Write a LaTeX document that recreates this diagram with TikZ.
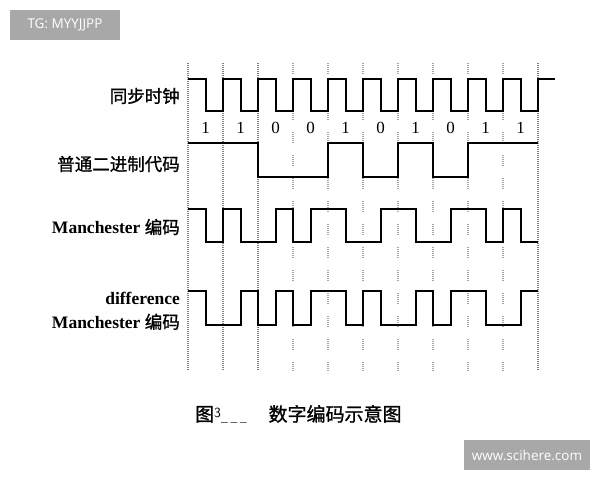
\documentclass[tikz,border=0pt]{standalone}
\usepackage{fontspec}
\setmainfont{Liberation Serif}
\newfontfamily\cjk{Noto Sans CJK SC}[FakeBold=1.2]
\newfontfamily\wmfont{Open Sans}
\usetikzlibrary{positioning}

\begin{document}
\begin{tikzpicture}[x=1pt,y=-1pt,
   sig/.style={line width=2pt, line join=miter},
   fineline/.style={black!50, line width=1.1pt, dash pattern=on 1pt off 1pt},
   gapline/.style={black!35, line width=1.1pt, dash pattern=on 1pt off 1pt on 1pt off 1pt on 1pt off 1pt on 1pt off 1pt on 1pt off 1pt on 1pt off 12pt},
   lbl/.style={anchor=east, align=right, inner sep=0pt, font=\fontsize{17.5}{24}\selectfont},
   bit/.style={font=\fontsize{17}{17}\selectfont},
   wmark/.style={fill=black!34, text=white, inner sep=0pt, font=\wmfont\fontsize{13.5}{13.5}\selectfont}]

   \useasboundingbox (0,0) rectangle (600,480);

   % Watermarks
      \node[wmark, minimum width=110pt, minimum height=30pt] (tg)  at (65,25)    {TG: MYYJJPP};
      \node[wmark, minimum width=126pt, minimum height=30pt] (web) at (527,455)  {www.scihere.com};

   % Bit boundaries
      \draw[fineline] (188,63) -- (188,371);
      \draw[fineline] (223,63) -- (223,371);
      \draw[fineline] (258,63) -- (258,371);
      \draw[gapline]  (293,63) -- (293,371);
      \draw[gapline]  (328,63) -- (328,371);
      \draw[gapline]  (363,63) -- (363,371);
      \draw[gapline]  (398,63) -- (398,371);
      \draw[gapline]  (433,63) -- (433,371);
      \draw[gapline]  (468,63) -- (468,371);
      \draw[gapline]  (503,63) -- (503,371);
      \draw[fineline] (538,63) -- (538,371);

   % Row labels
      \node[lbl] (clk)  at (180,96)  {\cjk 同步时钟};
      \node[lbl] (nrz)  at (180,164) {\cjk 普通二进制代码};
      \node[lbl] (man)  at (180,227) {\bfseries Manchester {\mdseries\cjk 编码}};
      \node[lbl] (dman) at (180,311) {\bfseries difference\\ \bfseries Manchester {\mdseries\cjk 编码}};

   % Data bits
      \node[bit] (b1)  at (205.5,128) {1};
      \node[bit] (b2)  at (240.5,128) {1};
      \node[bit] (b3)  at (275.5,128) {0};
      \node[bit] (b4)  at (310.5,128) {0};
      \node[bit] (b5)  at (345.5,128) {1};
      \node[bit] (b6)  at (380.5,128) {0};
      \node[bit] (b7)  at (415.5,128) {1};
      \node[bit] (b8)  at (450.5,128) {0};
      \node[bit] (b9)  at (485.5,128) {1};
      \node[bit] (b10) at (520.5,128) {1};

   % Waveforms
      \draw[sig] (188,79) foreach \k in {1,...,10} { -- ++(17.5,0) -- ++(0,32) -- ++(17.5,0) -- ++(0,-32) } -- (555,79);
      \draw[sig] (188,143) -| (258,177) -| (328,143) -| (363,177) -| (398,143) -| (433,177) -| (468,143) -- (538,143);
      \draw[sig] (188,209) -| (205.5,242) -| (223,209) -| (240.5,242) -| (275.5,209) -| (293,242) -| (310.5,209)
                 -| (345.5,242) -| (380.5,209) -| (415.5,242) -| (450.5,209) -| (485.5,242) -| (503,209) -| (520.5,242) -- (538,242);
      \draw[sig] (188,291) -| (205.5,325) -| (240.5,291) -| (258,325) -| (275.5,291) -| (293,325) -| (310.5,291)
                 -| (345.5,325) -| (363,291) -| (380.5,325) -| (415.5,291) -| (433,325) -| (450.5,291) -| (485.5,325) -| (520.5,291) -- (538,291);

   % Caption
      \node[anchor=west, inner sep=0pt, font=\fontsize{19}{19}\selectfont] (cap) at (195,414)
         {\cjk 图\raisebox{4pt}{\sffamily\fontsize{14}{14}\selectfont 3}{\color{black!60}\fontsize{12}{12}\selectfont\_ \_ \_}\hspace{22pt}数字编码示意图};
\end{tikzpicture}
\end{document}
